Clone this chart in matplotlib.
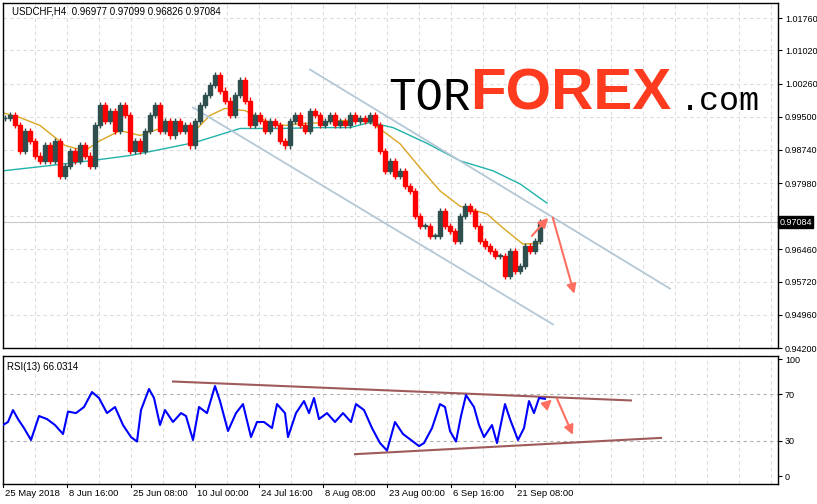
import matplotlib
matplotlib.use("Agg")
import matplotlib.pyplot as plt
from matplotlib.patches import Rectangle

plt.rcParams["font.family"] = ["Liberation Sans", "DejaVu Sans"]

W, H = 817, 504

# closes, one candle every 5 px of the original chart
closes = [
    0.9946, 0.9953, 0.9930, 0.9872, 0.9918, 0.9895, 0.9861, 0.9849, 0.9884, 0.9849,
    0.9895, 0.9815, 0.9838, 0.9872, 0.9849, 0.9884, 0.9861, 0.9838, 0.9930, 0.9976,
    0.9941, 0.9964, 0.9918, 0.9976, 0.9953, 0.9872, 0.9895, 0.9872, 0.9918, 0.9953,
    0.9976, 0.9918, 0.9941, 0.9907, 0.9941, 0.9918, 0.9930, 0.9884, 0.9941, 0.9976,
    0.9999, 1.0022, 1.0045, 1.0010, 0.9987, 0.9953, 0.9999, 1.0034, 0.9987, 0.9930,
    0.9953, 0.9941, 0.9918, 0.9941, 0.9930, 0.9895, 0.9884, 0.9941, 0.9953, 0.9930,
    0.9918, 0.9964, 0.9953, 0.9930, 0.9941, 0.9953, 0.9930, 0.9941, 0.9930, 0.9953,
    0.9941, 0.9946, 0.9941, 0.9953, 0.9930, 0.9872, 0.9826, 0.9849, 0.9815, 0.9826,
    0.9792, 0.9780, 0.9722, 0.9699, 0.9699, 0.9676, 0.9676, 0.9734, 0.9699, 0.9688,
    0.9665, 0.9722, 0.9745, 0.9734, 0.9699, 0.9665, 0.9653, 0.9642, 0.9630, 0.9630,
    0.9584, 0.9642, 0.9596, 0.9607, 0.9653, 0.9642, 0.9665, 0.97084,
]
bar_x0, bar_dx = 5, 5

ma_fast_x = [3, 20, 40, 65, 85, 100, 120, 140, 160, 180, 195, 210, 225, 245, 265, 285,
             300, 320, 340, 360, 373, 400, 420, 440, 460, 487, 503, 523, 540]
ma_fast = [0.9959, 0.9948, 0.9930, 0.9884, 0.9872, 0.9895, 0.9918, 0.9907, 0.9923, 0.9923,
           0.9918, 0.9953, 0.9969, 0.9964, 0.9941, 0.9930, 0.9934, 0.9936, 0.9941, 0.9941,
           0.9934, 0.9888, 0.9833, 0.9780, 0.9745, 0.9727, 0.9695, 0.9658, 0.9660]
ma_slow_x = [3, 50, 90, 130, 165, 195, 240, 280, 320, 350, 370, 393, 427, 460, 493, 520, 547]
ma_slow = [0.9826, 0.9838, 0.9849, 0.9861, 0.9877, 0.9891, 0.9923, 0.9923, 0.9925, 0.9925,
           0.9937, 0.9925, 0.9889, 0.9849, 0.9826, 0.9796, 0.9752]

chan_upper = [(310, 1.0058), (670, 0.9556)]
chan_lower = [(193, 0.9971), (553, 0.9474)]
arrow_up = [(530, 0.9672), (550, 0.9723)]
arrow_down = [(552, 0.9725), (575, 0.9538)]

rsi_x = [3, 8, 13, 18, 24, 31, 39, 47, 55, 63, 68, 76, 84, 92, 99, 107, 115, 123, 131, 137,
         141, 149, 154, 160, 165, 173, 181, 186, 193, 199, 207, 215, 220, 228, 236, 243, 251,
         257, 264, 272, 277, 285, 288, 296, 304, 309, 314, 319, 327, 335, 343, 351, 356, 364,
         372, 380, 387, 395, 403, 411, 419, 424, 432, 440, 445, 450, 456, 461, 466, 474, 479,
         484, 492, 497, 505, 510, 518, 524, 529, 534, 539, 545]
rsi = [43.6, 46.2, 56.4, 48.7, 41, 30.8, 51.3, 48.7, 43.6, 35.9, 55.1, 53.8, 59, 71.8, 66.7,
       53.8, 59, 43.6, 33.3, 29.5, 56.4, 74.4, 66.7, 43.6, 56.4, 46.2, 53.8, 51.3, 30.8, 59,
       53.8, 76.9, 64.1, 38.5, 53.8, 61.5, 33.3, 46.2, 46.2, 41, 61.5, 53.8, 33.3, 53.8, 64.1,
       53.8, 66.7, 48.7, 53.8, 46.2, 53.8, 46.2, 61.5, 56.4, 41, 28.2, 21.8, 46.2, 35.9, 30.8,
       25.6, 28.2, 41, 61.5, 59, 38.5, 29.5, 51.3, 69.2, 59, 43.6, 33.3, 43.6, 28.2, 61.5,
       48.7, 30.8, 41, 64.1, 53.8, 66.7, 66.0]
rsi_upper = [(173, 80.8), (631, 64.6)]
rsi_lower = [(355, 18.7), (661, 32.6)]
rsi_arrow_up = [(545, 60), (554, 67)]
rsi_arrow_down = [(556, 68), (574, 33)]

price_ticks = [0.94200, 0.94960, 0.95720, 0.96460, 0.97980, 0.98740, 0.99500,
               1.00260, 1.01020, 1.01760]
date_x = [3, 67, 131, 195, 259, 323, 387, 451, 515]
date_labels = ["25 May 2018", "8 Jun 16:00", "25 Jun 08:00", "10 Jul 00:00", "24 Jul 16:00",
               "8 Aug 08:00", "23 Aug 00:00", "6 Sep 16:00", "21 Sep 08:00"]
last_price = 0.97084

BULL, BEAR = "#2f4f4f", "#ff0000"
GRID = "#dcdcdc"

fig = plt.figure(figsize=(W / 100, H / 100), dpi=100)


def box(x0, y0, x1, y1):
    return [x0 / W, 1 - y1 / H, (x1 - x0) / W, (y1 - y0) / H]


ax = fig.add_axes(box(3, 3, 778, 348))
ar = fig.add_axes(box(3, 356, 778, 484))

for a in (ax, ar):
    a.set_xlim(3, 778)
    a.yaxis.tick_right()
    a.tick_params(axis="y", labelsize=6.5, length=3, pad=2)
    a.set_xticks([])
    for x in range(35, 778, 32):
        a.axvline(x, color=GRID, lw=0.8, ls=(0, (3, 3)), zorder=0)
    for s in a.spines.values():
        s.set_linewidth(1)

ax.set_ylim(0.94200, 1.02105)
ax.set_yticks(price_ticks)
ax.set_yticklabels([f"{p:.5f}" for p in price_ticks])
for p in price_ticks + [0.9722]:
    ax.axhline(p, color=GRID, lw=0.8, ls=(0, (3, 3)), zorder=0)

# candles
wick = 0.0007
prev = closes[0]
for i, c in enumerate(closes):
    x = bar_x0 + i * bar_dx
    o = prev
    col = BULL if c >= o else BEAR
    ax.vlines(x, min(o, c) - wick, max(o, c) + wick, color=col, lw=1, zorder=3)
    ax.add_patch(Rectangle((x - 1.6, min(o, c)), 3.2, max(abs(c - o), 0.0002),
                           color=col, zorder=3))
    prev = c

ax.plot(ma_fast_x, ma_fast, color="#daa520", lw=1, zorder=2)
ax.plot(ma_slow_x, ma_slow, color="#20b2aa", lw=1, zorder=2)
for ln in (chan_upper, chan_lower):
    ax.plot([p[0] for p in ln], [p[1] for p in ln], color="#b4c8d6", lw=1.3, zorder=2)
for arr in (arrow_up, arrow_down):
    ax.annotate("", xy=arr[1], xytext=arr[0],
                arrowprops=dict(arrowstyle="-|>", color="#ff6f61", lw=1.5,
                                mutation_scale=14))

ax.axhline(last_price, color="#c8c8c8", lw=0.8, zorder=1)
ax.text(1.002, last_price, f"{last_price:.5f}", transform=ax.get_yaxis_transform(),
        fontsize=6.5, color="white", va="center", ha="left",
        bbox=dict(boxstyle="square,pad=0.15", fc="black", ec="black"), clip_on=False)

ax.text(0.012, 0.99, "USDCHF,H4  0.96977 0.97099 0.96826 0.97084", transform=ax.transAxes,
        fontsize=7, va="top", ha="left")

# logo
fig.text(388 / W, 1 - 110 / H, "TOR", fontsize=33, family="Liberation Mono",
         color="black", va="baseline")
fig.text(470 / W, 1 - 110 / H, "FOREX", fontsize=42, family="Liberation Sans",
         weight="bold", color="#ff3b1f", va="baseline")
fig.text(680 / W, 1 - 110 / H, ".com", fontsize=24, family="Liberation Mono",
         color="black", va="baseline")

# RSI
ar.set_ylim(-6.8, 102.6)
ar.set_yticks([0, 30, 70, 100])
for v in (30, 70):
    ar.axhline(v, color="#b0b0b0", lw=0.8, ls=(0, (3, 3)), zorder=1)
ar.plot(rsi_x, rsi, color="#0000ff", lw=1.5, zorder=3)
for ln in (rsi_upper, rsi_lower):
    ar.plot([p[0] for p in ln], [p[1] for p in ln], color="#a05a5a", lw=1.5, zorder=2)
for arr in (rsi_arrow_up, rsi_arrow_down):
    ar.annotate("", xy=arr[1], xytext=arr[0],
                arrowprops=dict(arrowstyle="-|>", color="#ff6f61", lw=1.5,
                                mutation_scale=14))
ar.text(0.005, 0.95, "RSI(13) 66.0314", transform=ar.transAxes, fontsize=7,
        va="top", ha="left")

for x, lab in zip(date_x, date_labels):
    ar.plot([x, x], [-6.8, -9.5], color="black", lw=0.8, clip_on=False)
    fig.text(x / W + 0.002, 1 - 494 / H, lab, fontsize=6.8, va="center", ha="left")

fig.savefig("out.png", dpi=100)
